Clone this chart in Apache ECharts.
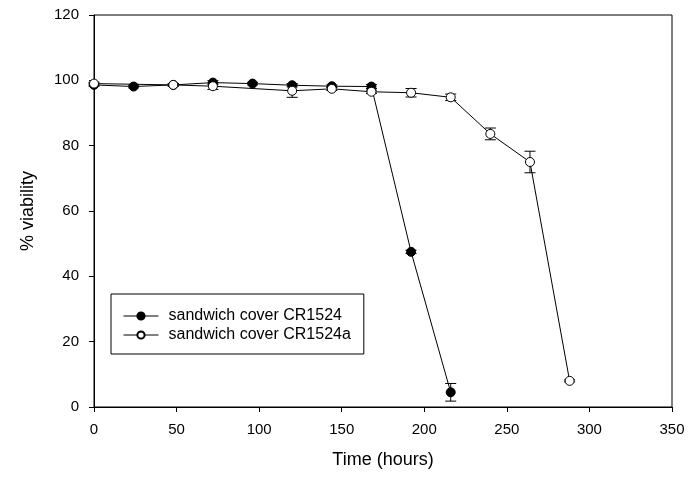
<!DOCTYPE html>
<html>
<head>
<meta charset="utf-8">
<script src="https://cdn.jsdelivr.net/npm/echarts@6/dist/echarts.min.js"></script>
<style>
  html, body { margin: 0; padding: 0; background: #fff; }
  #chart { width: 691px; height: 477px; }
</style>
</head>
<body>
<div id="chart"></div>
<script>
// data
const hoursA = [0, 24, 48, 72, 96, 120, 144, 168, 192, 216]
const viabA = [98.6, 98.1, 98.6, 99.3, 99.0, 98.5, 98.2, 98.1, 47.5, 4.5]
const errA = [0.4, 0.4, 0.4, 0.6, 0.4, 0.5, 0.4, 0.6, 0.5, 2.7]

const hoursB = [0, 48, 72, 120, 144, 168, 192, 216, 240, 264, 288]
const viabB = [99.0, 98.6, 98.2, 96.8, 97.4, 96.5, 96.2, 94.8, 83.6, 75.0, 8.0]
const errB = [0.4, 0.4, 1.0, 2.0, 0.5, 0.5, 1.3, 1.0, 1.8, 3.3, 0.3]

const nameA = 'sandwich cover CR1524'
const nameB = 'sandwich cover CR1524a'

const font = 'Liberation Sans, Arial, sans-serif'

function errData(xs, ys, es) {
  return xs.map((x, i) => [x, ys[i] - es[i], ys[i] + es[i]])
}

function errRender(params, api) {
  const x = api.value(0)
  const lo = api.coord([x, api.value(1)])
  const hi = api.coord([x, api.value(2)])
  const cap = 5.5
  const style = { stroke: '#000', lineWidth: 1 }
  return {
    type: 'group',
    children: [
      { type: 'line', shape: { x1: lo[0], y1: lo[1], x2: hi[0], y2: hi[1] }, style },
      { type: 'line', shape: { x1: lo[0] - cap, y1: lo[1], x2: lo[0] + cap, y2: lo[1] }, style },
      { type: 'line', shape: { x1: hi[0] - cap, y1: hi[1], x2: hi[0] + cap, y2: hi[1] }, style }
    ]
  }
}

const myChart = echarts.init(document.getElementById('chart'))
myChart.setOption({
  animation: false,
  grid: {
    left: 94, right: 19, top: 15, bottom: 70,
    outerBoundsMode: 'none', containLabel: false,
    show: true, borderColor: '#000', borderWidth: 1
  },
  legend: {
    left: 111, top: 294,
    orient: 'vertical',
    data: [nameA, nameB],
    borderColor: '#000', borderWidth: 1, borderRadius: 0,
    padding: [14, 13, 11, 12],
    itemGap: 3,
    itemWidth: 35, itemHeight: 9,
    lineStyle: { width: 1 },
    textStyle: { fontFamily: font, fontSize: 16, color: '#000', padding: [0, 0, 0, 5] }
  },
  xAxis: {
    type: 'value', min: 0, max: 350, interval: 50,
    name: 'Time (hours)', nameLocation: 'middle', nameGap: 44,
    nameTextStyle: { fontFamily: font, fontSize: 18, color: '#000' },
    axisLine: { lineStyle: { color: '#000' } },
    axisTick: { inside: false, length: 5, lineStyle: { color: '#000' } },
    axisLabel: { fontFamily: font, fontSize: 15, color: '#000', margin: 15 },
    splitLine: { show: false }
  },
  yAxis: {
    type: 'value', min: 0, max: 120, interval: 20,
    name: '% viability', nameLocation: 'middle', nameGap: 57,
    nameTextStyle: { fontFamily: font, fontSize: 18, color: '#000' },
    axisLine: { show: true, lineStyle: { color: '#000' } },
    axisTick: { show: true, inside: false, length: 5, lineStyle: { color: '#000' } },
    axisLabel: { fontFamily: font, fontSize: 15, color: '#000', margin: 15 },
    splitLine: { show: false }
  },
  series: [
    {
      type: 'custom', renderItem: errRender, silent: true, z: 1,
      data: errData(hoursA, viabA, errA)
    },
    {
      type: 'custom', renderItem: errRender, silent: true, z: 1,
      data: errData(hoursB, viabB, errB)
    },
    {
      name: nameA, type: 'line', z: 3,
      data: hoursA.map((x, i) => [x, viabA[i]]),
      symbol: 'circle', symbolSize: 9,
      lineStyle: { color: '#000', width: 1 },
      itemStyle: { color: '#000', borderColor: '#000', borderWidth: 1 }
    },
    {
      name: nameB, type: 'line', z: 4,
      data: hoursB.map((x, i) => [x, viabB[i]]),
      symbol: 'circle', symbolSize: 9,
      lineStyle: { color: '#000', width: 1 },
      itemStyle: { color: '#fff', borderColor: '#000', borderWidth: 1 }
    }
  ]
})
</script>
</body>
</html>
